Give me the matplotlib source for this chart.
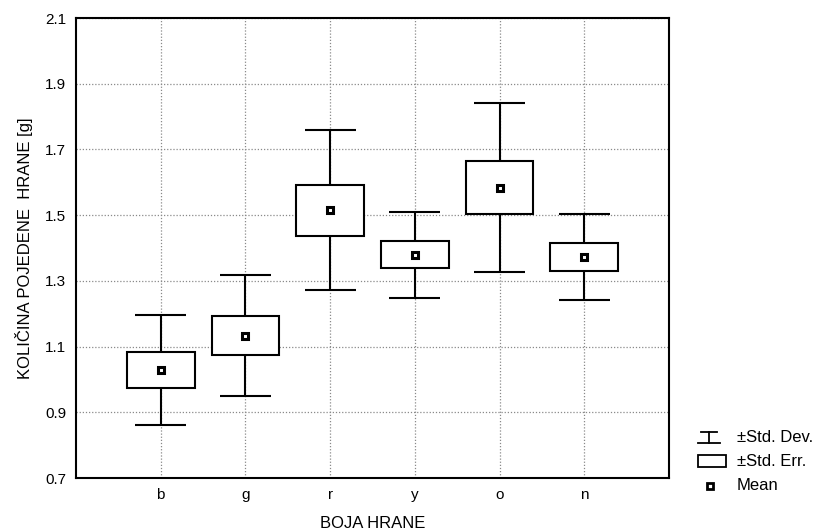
import matplotlib
matplotlib.use("Agg")
import matplotlib.pyplot as plt
from matplotlib.patches import Rectangle
from matplotlib.lines import Line2D

plt.rcParams['font.family'] = ['Liberation Sans', 'DejaVu Sans']

categories = ['b', 'g', 'r', 'y', 'o', 'n']
means = [1.029, 1.133, 1.515, 1.379, 1.584, 1.372]
std_err = [0.054, 0.059, 0.078, 0.041, 0.082, 0.043]
std_dev = [0.168, 0.184, 0.243, 0.130, 0.258, 0.131]
y_ticks = [0.7, 0.9, 1.1, 1.3, 1.5, 1.7, 1.9, 2.1]

fig = plt.figure(figsize=(8.17, 5.31), dpi=100)
ax = fig.add_axes([76/817, 53/531, (669-76)/817, (478-18)/531])

x = list(range(1, len(categories) + 1))
box_w = 0.8
cap_w = 0.6

# whiskers (±SD)
for xi, m, sd in zip(x, means, std_dev):
    ax.vlines(xi, m - sd, m + sd, color='black', lw=1.5, zorder=2)
    ax.hlines([m - sd, m + sd], xi - cap_w/2, xi + cap_w/2, color='black', lw=1.5, zorder=2)

# boxes (±SE)
ax.bar(x, [2*s for s in std_err], bottom=[m - s for m, s in zip(means, std_err)],
       width=box_w, color='white', edgecolor='black', linewidth=1.5, zorder=3)

# mean markers
ax.plot(x, means, linestyle='none', marker='s', markersize=5, markerfacecolor='white',
        markeredgecolor='black', markeredgewidth=2.2, zorder=4)

ax.set_xlim(0, 7)
ax.set_ylim(0.7, 2.1)
ax.set_xticks(x)
ax.set_xticklabels(categories)
ax.set_yticks(y_ticks)
ax.set_yticklabels([f"{v:.1f}" for v in y_ticks])
ax.tick_params(length=0, labelsize=11, pad=7)
ax.grid(True, color='#8a8a8a', linestyle=(0, (1, 1.5)), linewidth=0.9, zorder=0)
ax.set_axisbelow(True)
for s in ax.spines.values():
    s.set_linewidth(1.5)

ax.set_xlabel('BOJA HRANE', fontsize=12, labelpad=10)
ax.set_ylabel('KOLIČINA POJEDENE  HRANE [g]', fontsize=12, labelpad=9)

# legend (drawn in pixel coordinates of the figure)
H = 531
def fx(px):
    return px / 817
def fy(py):
    return (H - py) / H

rows = [438, 461, 486]
lw = 1.3
# Std. Dev. symbol
r = rows[0]
fig.add_artist(Line2D([fx(701), fx(717)], [fy(r - 6), fy(r - 6)], color='black', lw=lw))
fig.add_artist(Line2D([fx(709), fx(709)], [fy(r - 6), fy(r + 5)], color='black', lw=lw))
fig.add_artist(Line2D([fx(698), fx(720)], [fy(r + 5), fy(r + 5)], color='black', lw=lw))
fig.text(fx(737), fy(r), '±Std. Dev.', fontsize=12, va='center', ha='left')
# Std. Err. symbol
r = rows[1]
fig.add_artist(Rectangle((fx(698), fy(r + 6)), fx(28), 12 / H, facecolor='white',
                         edgecolor='black', lw=lw, transform=fig.transFigure))
fig.text(fx(737), fy(r), '±Std. Err.', fontsize=12, va='center', ha='left')
# Mean symbol
r = rows[2]
fig.add_artist(Line2D([fx(710)], [fy(r)], linestyle='none', marker='s', markersize=4.5,
                      markerfacecolor='white', markeredgecolor='black', markeredgewidth=2))
fig.text(fx(737), fy(r), 'Mean', fontsize=12, va='center', ha='left')

fig.savefig('out.png', dpi=100)
